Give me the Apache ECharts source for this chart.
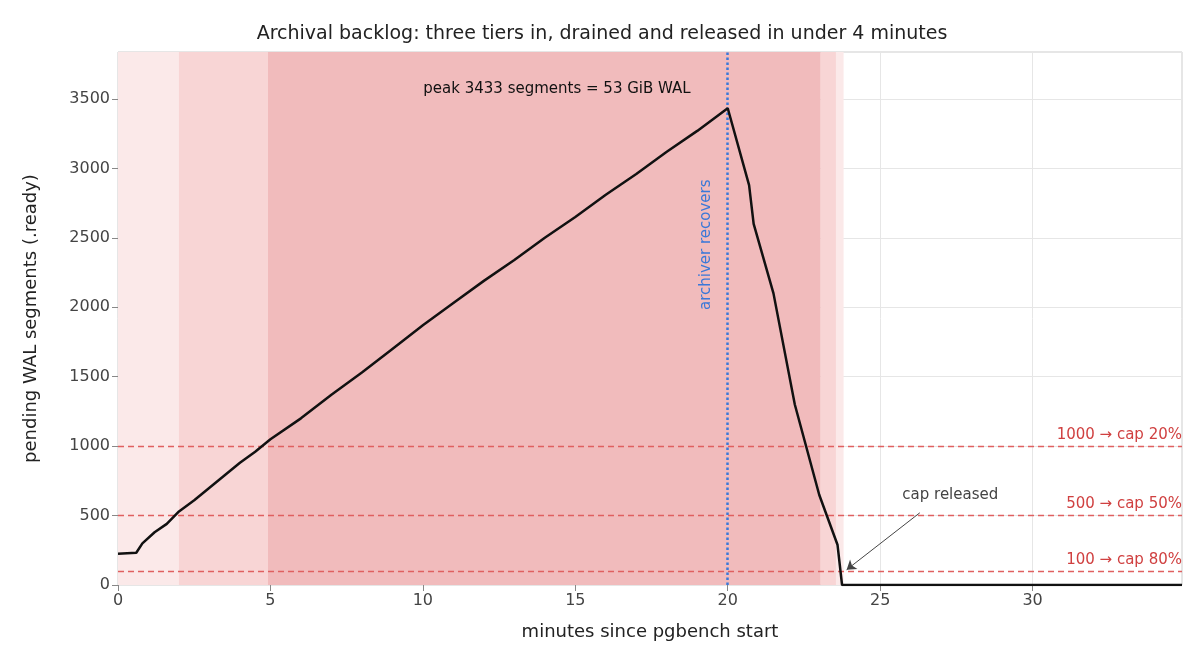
<!DOCTYPE html><html><head><meta charset="utf-8"><script src="https://cdn.jsdelivr.net/npm/echarts@6/dist/echarts.min.js"></script>
<style>html,body{margin:0;padding:0;background:#fff}#c{width:1204px;height:672px}</style></head><body><div id="c"></div><script>
const minutes=[0,0.6,0.8,1.2,1.6,2,2.5,3,3.5,4,4.5,5,6,7,8,9,10,11,12,13,14,15,16,17,18,19,20,20.7,20.85,21.5,22.2,23.0,23.6,23.75,27,30,34.9];
const pending=[225,232,300,380,440,530,610,700,790,880,960,1050,1200,1370,1530,1700,1870,2030,2190,2340,2500,2650,2810,2960,3120,3270,3433,2880,2600,2100,1300,650,290,0,0,0,0];
const thresholds=[1000,500,100];
const thrLabels=['1000 → cap 20%','500 → cap 50%','100 → cap 80%'];
const bands=[[0,2,'#fbe9e9'],[2,4.92,'#f8d5d5'],[4.92,23.05,'#f1bbbc'],[23.05,23.55,'#f8d5d5'],[23.55,23.8,'#fbe9e9']];
const data=minutes.map((m,i)=>[m,pending[i]]);
const ch=echarts.init(document.getElementById('c'));
const F='DejaVu Sans';
const ax={fontSize:16,color:'#444',showMaxLabel:false,formatter:v=>String(v)};
ch.setOption({
 animation:false,textStyle:{fontFamily:F},
 title:{text:'Archival backlog: three tiers in, drained and released in under 4 minutes',left:'center',top:20,textStyle:{fontFamily:F,fontSize:19,fontWeight:'normal',color:'#222'}},
 grid:{left:118,right:22,top:52,bottom:87,show:true,borderColor:'#ccc',borderWidth:1},
 xAxis:{type:'value',min:0,max:34.9,interval:5,name:'minutes since pgbench start',nameLocation:'middle',nameGap:38,nameTextStyle:{fontSize:18,color:'#222'},
  axisLabel:ax,axisLine:{show:false},axisTick:{show:true,length:6,lineStyle:{color:'#888'}},splitLine:{lineStyle:{color:'#e6e6e6'}}},
 yAxis:{type:'value',min:0,max:3838,interval:500,name:'pending WAL segments (.ready)',nameLocation:'middle',nameGap:78,nameTextStyle:{fontSize:18,color:'#222'},
  axisLabel:ax,axisLine:{show:false},axisTick:{show:true,length:6,lineStyle:{color:'#888'}},splitLine:{lineStyle:{color:'#e6e6e6'}}},
 series:[
 {type:'line',data:[],markArea:{silent:true,data:bands.map(b=>[{xAxis:b[0],itemStyle:{color:b[2]}},{xAxis:b[1]}])}},
 {type:'line',data:[],markLine:{silent:true,symbol:'none',lineStyle:{color:'#e06060',type:[6,4],width:1.3},
   data:thresholds.map((t,i)=>({yAxis:t,label:{show:true,position:'insideEndTop',formatter:thrLabels[i],color:'#d04040',fontSize:15,distance:[0,4]}}))}},
 {type:'line',data:[],markLine:{silent:true,symbol:'none',lineStyle:{color:'#3a78d8',type:'dotted',width:2.5},label:{show:false},data:[{xAxis:20}]}},
 {type:'line',data:[],markLine:{silent:true,symbol:['none','arrow'],symbolSize:9,lineStyle:{color:'#444',type:'solid',width:1},label:{show:false},
   data:[[{coord:[26.3,520]},{coord:[23.9,110]}]]}},
 {type:'line',data:data,showSymbol:false,lineStyle:{color:'#111',width:2.5},z:5,
  markPoint:{silent:true,symbol:'circle',symbolSize:0,data:[
   {coord:[14.4,3570],label:{show:true,position:'inside',formatter:'peak 3433 segments = 53 GiB WAL',fontSize:15,color:'#111'}},
   {coord:[19.3,2450],label:{show:true,position:'inside',formatter:'archiver recovers',rotate:90,fontSize:15,color:'#3a78d8'}},
   {coord:[27.3,650],label:{show:true,position:'inside',formatter:'cap released',fontSize:15,color:'#444'}}
  ]}}
 ]
});
</script></body></html>
